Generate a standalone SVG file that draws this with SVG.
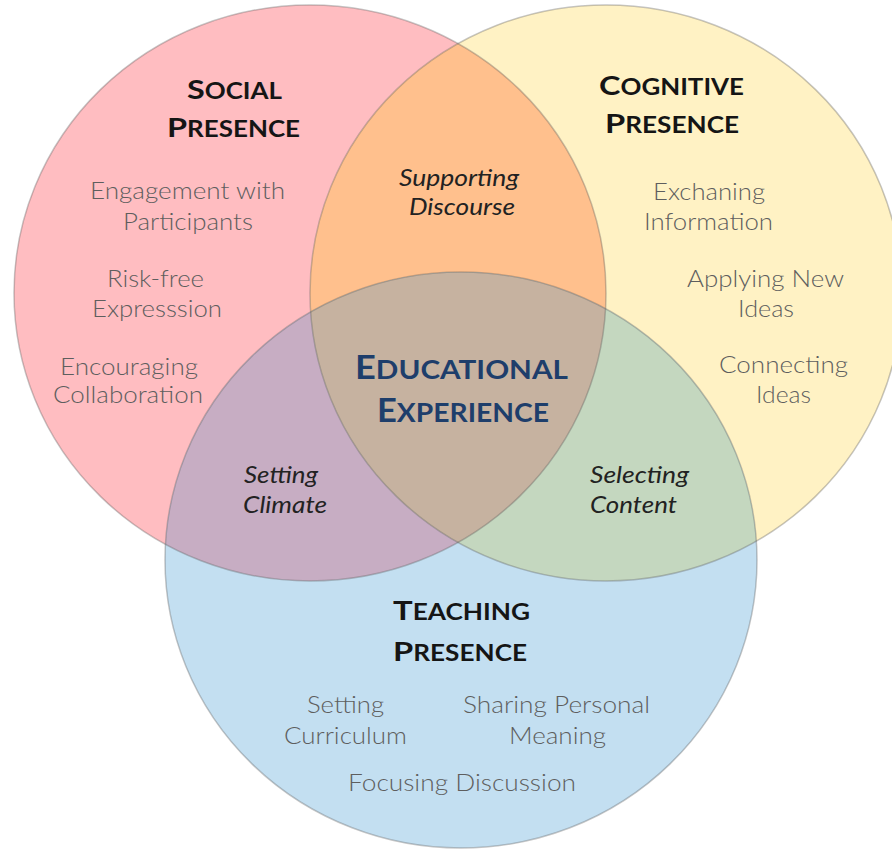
<svg xmlns="http://www.w3.org/2000/svg" width="892" height="851" viewBox="0 0 892 851">
<defs>
<style>
.title{font-family:Lato,"Liberation Sans",sans-serif;font-weight:700;fill:#151515;font-size:22px}
.big{font-size:27.5px}
.edu{font-family:Lato,"Liberation Sans",sans-serif;font-weight:700;fill:#1e3e6b;font-size:27px}
.ebig{font-size:33px}
.body{font-family:Lato,"Liberation Sans",sans-serif;font-weight:300;fill:#5e5e5e;font-size:23px}
.ital{font-family:Lato,"Liberation Sans",sans-serif;font-style:italic;font-weight:400;fill:#222;font-size:22.5px}
.outline{fill:none;stroke:#5a5a5a;stroke-opacity:0.35;stroke-width:1.5}
</style>
<clipPath id="cr"><ellipse cx="310" cy="293" rx="296" ry="288"/></clipPath>
<clipPath id="cy"><ellipse cx="606" cy="293" rx="296" ry="288"/></clipPath>
</defs>
<rect width="892" height="851" fill="#ffffff"/>
<g id="circles">
<ellipse cx="310" cy="293" rx="296" ry="288" fill="#FFBDC1"/>
<ellipse cx="606" cy="293" rx="296" ry="288" fill="#FFF2C4"/>
<ellipse cx="461" cy="560" rx="296" ry="288" fill="#C3DFF1"/>
<ellipse cx="606" cy="293" rx="296" ry="288" fill="#FFC08D" clip-path="url(#cr)"/>
<ellipse cx="461" cy="560" rx="296" ry="288" fill="#C7ADC3" clip-path="url(#cr)"/>
<ellipse cx="461" cy="560" rx="296" ry="288" fill="#C4D7BF" clip-path="url(#cy)"/>
<g clip-path="url(#cy)"><ellipse cx="461" cy="560" rx="296" ry="288" fill="#C6B2A0" clip-path="url(#cr)"/></g>
<ellipse class="outline" cx="310" cy="293" rx="296" ry="288"/>
<ellipse class="outline" cx="606" cy="293" rx="296" ry="288"/>
<ellipse class="outline" cx="461" cy="560" rx="296" ry="288"/>
</g>
<g id="social">
<text class="title" x="187" y="99" textLength="95" lengthAdjust="spacingAndGlyphs"><tspan class="big">S</tspan>OCIAL</text>
<text class="title" x="167" y="137" textLength="133" lengthAdjust="spacingAndGlyphs"><tspan class="big">P</tspan>RESENCE</text>
<text class="body" x="90" y="199" textLength="195" lengthAdjust="spacingAndGlyphs">Engagement with</text>
<text class="body" x="123" y="230" textLength="130" lengthAdjust="spacingAndGlyphs">Participants</text>
<text class="body" x="107" y="287" textLength="97" lengthAdjust="spacingAndGlyphs">Risk-free</text>
<text class="body" x="92" y="317" textLength="130" lengthAdjust="spacingAndGlyphs">Expresssion</text>
<text class="body" x="60" y="375" textLength="138" lengthAdjust="spacingAndGlyphs">Encouraging</text>
<text class="body" x="53" y="403" textLength="150" lengthAdjust="spacingAndGlyphs">Collaboration</text>
</g>
<g id="cognitive">
<text class="title" x="599" y="95" textLength="145" lengthAdjust="spacingAndGlyphs"><tspan class="big">C</tspan>OGNITIVE</text>
<text class="title" x="605" y="133" textLength="134" lengthAdjust="spacingAndGlyphs"><tspan class="big">P</tspan>RESENCE</text>
<text class="body" x="653" y="200" textLength="112" lengthAdjust="spacingAndGlyphs">Exchaning</text>
<text class="body" x="644" y="230" textLength="129" lengthAdjust="spacingAndGlyphs">Information</text>
<text class="body" x="687" y="287" textLength="157" lengthAdjust="spacingAndGlyphs">Applying New</text>
<text class="body" x="738" y="317" textLength="56" lengthAdjust="spacingAndGlyphs">Ideas</text>
<text class="body" x="719" y="373" textLength="129" lengthAdjust="spacingAndGlyphs">Connecting</text>
<text class="body" x="756" y="403" textLength="55" lengthAdjust="spacingAndGlyphs">Ideas</text>
</g>
<g id="teaching">
<text class="title" x="393" y="620" textLength="137" lengthAdjust="spacingAndGlyphs"><tspan class="big">T</tspan>EACHING</text>
<text class="title" x="393" y="661" textLength="134" lengthAdjust="spacingAndGlyphs"><tspan class="big">P</tspan>RESENCE</text>
<text class="body" x="307" y="713" textLength="77" lengthAdjust="spacingAndGlyphs">Setting</text>
<text class="body" x="284" y="744" textLength="123" lengthAdjust="spacingAndGlyphs">Curriculum</text>
<text class="body" x="463" y="713" textLength="187" lengthAdjust="spacingAndGlyphs">Sharing Personal</text>
<text class="body" x="509" y="744" textLength="97" lengthAdjust="spacingAndGlyphs">Meaning</text>
<text class="body" x="348" y="791" textLength="228" lengthAdjust="spacingAndGlyphs">Focusing Discussion</text>
</g>
<g id="supporting-discourse">
<text class="ital" x="399" y="186" textLength="120" lengthAdjust="spacingAndGlyphs">Supporting</text>
<text class="ital" x="409" y="215" textLength="106" lengthAdjust="spacingAndGlyphs">Discourse</text>
</g>
<g id="setting-climate">
<text class="ital" x="244" y="483" textLength="74" lengthAdjust="spacingAndGlyphs">Setting</text>
<text class="ital" x="243" y="513" textLength="84" lengthAdjust="spacingAndGlyphs">Climate</text>
</g>
<g id="selecting-content">
<text class="ital" x="590" y="483" textLength="99" lengthAdjust="spacingAndGlyphs">Selecting</text>
<text class="ital" x="590" y="513" textLength="87" lengthAdjust="spacingAndGlyphs">Content</text>
</g>
<g id="educational-experience">
<text class="edu" x="355" y="379" textLength="213" lengthAdjust="spacingAndGlyphs"><tspan class="ebig">E</tspan>DUCATIONAL</text>
<text class="edu" x="377" y="422" textLength="172" lengthAdjust="spacingAndGlyphs"><tspan class="ebig">E</tspan>XPERIENCE</text>
</g>
</svg>
